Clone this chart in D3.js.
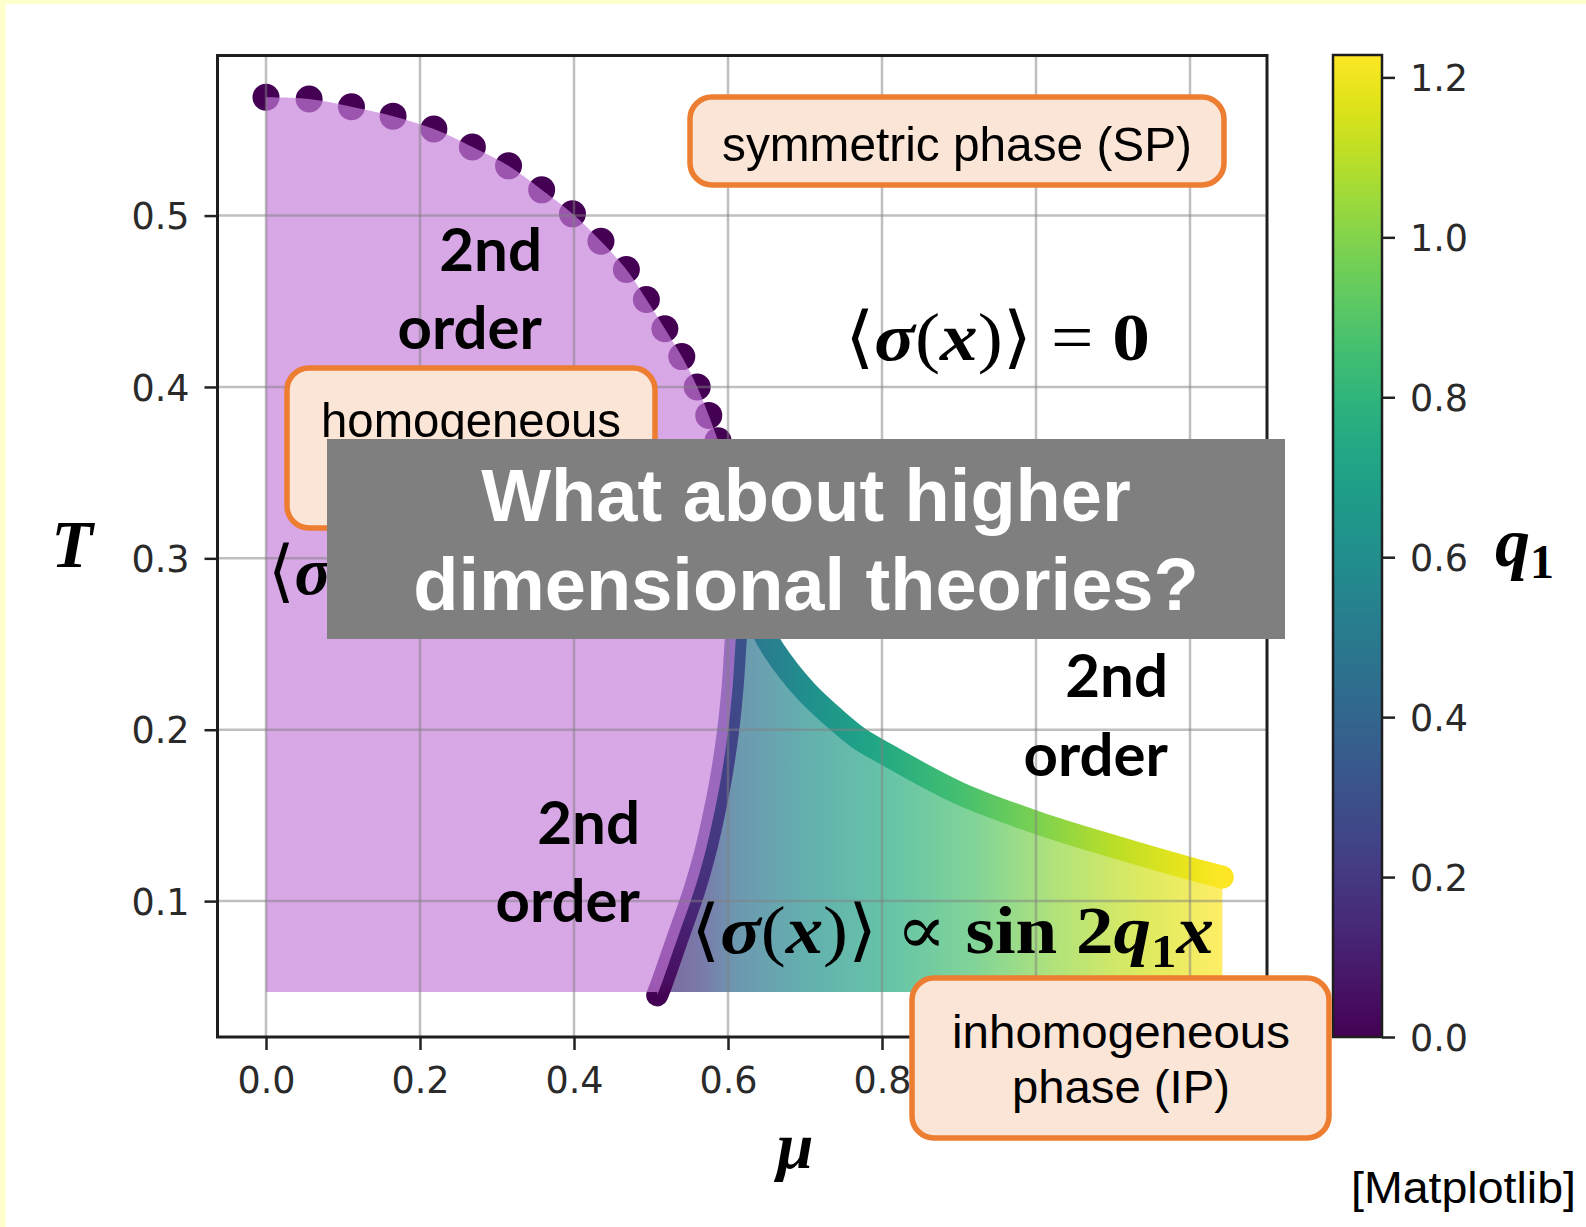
<!DOCTYPE html>
<html>
<head>
<meta charset="utf-8">
<script src="https://cdn.jsdelivr.net/npm/d3@7"></script>
<style>
  html, body { margin: 0; padding: 0; background: #ffffff; }
  svg { display: block; }
</style>
</head>
<body>
<svg id="chart" width="1586" height="1227"></svg>
<script>
// ---- Phase-boundary data (chemical potential μ, temperature T) ----
// Second-order line of the homogeneous phase (drawn as dots)
const hpMu = [0, 0.056, 0.111, 0.165, 0.218, 0.268, 0.315, 0.358, 0.398, 0.435, 0.468,
              0.494, 0.518, 0.540, 0.560, 0.575, 0.587, 0.597, 0.604, 0.609, 0.613, 0.616];
const hpT  = [0.569, 0.568, 0.5635, 0.558, 0.5505, 0.540, 0.529, 0.515, 0.501, 0.485, 0.4685,
              0.451, 0.434, 0.4177, 0.400, 0.3834, 0.3686, 0.352, 0.335, 0.318, 0.300, 0.288];

// Boundary between homogeneous and inhomogeneous phase, with q1 along it
const lineMu = [0.508, 0.514, 0.535, 0.556, 0.569, 0.580, 0.591, 0.600, 0.606, 0.610, 0.614, 0.616];
const lineT  = [0.045, 0.052, 0.079, 0.106, 0.126, 0.147, 0.172, 0.199, 0.225, 0.252, 0.275, 0.288];
const lineQ  = [0.00, 0.04, 0.10, 0.16, 0.19, 0.21, 0.23, 0.25, 0.28, 0.31, 0.36, 0.40];

// Upper boundary of the inhomogeneous phase, with q1 along it
const upMu = [0.616, 0.625, 0.64, 0.66, 0.70, 0.74, 0.77, 0.80, 0.90, 1.00, 1.10, 1.20, 1.242];
const upT  = [0.288, 0.275, 0.262, 0.246, 0.223, 0.206, 0.195, 0.187, 0.163, 0.146, 0.132, 0.119, 0.114];
const upQ  = [0.42, 0.45, 0.50, 0.53, 0.60, 0.66, 0.70, 0.74, 0.86, 0.98, 1.10, 1.19, 1.228];

// Wave number q1 inside the inhomogeneous phase, across μ
const fillMu = [0.508, 0.57, 0.61, 0.70, 0.81, 0.92, 1.03, 1.14, 1.242];
const fillQ  = [0.12, 0.25, 0.43, 0.60, 0.75, 0.88, 1.03, 1.14, 1.228];

const tBase = 0.047;   // lowest temperature computed
const qMax = 1.228;    // top of the colour bar

// Tick values (grid uses all μ ticks; labelled ticks stop before the IP note)
const muTicks = [0.0, 0.2, 0.4, 0.6, 0.8, 1.0, 1.2];
const muLabelTicks = [0.0, 0.2, 0.4, 0.6, 0.8];
const tTicks  = [0.1, 0.2, 0.3, 0.4, 0.5];
const qTicks  = [0.0, 0.2, 0.4, 0.6, 0.8, 1.0, 1.2];

// ---- Layout ----
const svg = d3.select("#chart");
const plotL = 217.5, plotR = 1267, plotT = 55.5, plotB = 1037;
const x = d3.scaleLinear().domain([-0.063, 1.3]).range([plotL, plotR]);
const y = d3.scaleLinear().domain([0.0207, 0.5934]).range([plotB, plotT]);
const cbar = { x0: 1333, x1: 1382, y0: 55, y1: 1037 };
const qY = d3.scaleLinear().domain([0, qMax]).range([cbar.y1, cbar.y0]);
const viridis = d3.scaleSequential(d3.interpolateViridis).domain([0, qMax]);

const sansFont = "'Liberation Sans', Arial, sans-serif";
const mathFont = "'Liberation Serif', 'DejaVu Serif', serif";
const tickFont = "'DejaVu Sans', sans-serif";

// frame band along the top and left edge
svg.append("rect").attr("x", 0).attr("y", 0).attr("width", 1586).attr("height", 4).attr("fill", "#ffffcc");
svg.append("rect").attr("x", 0).attr("y", 0).attr("width", 5.5).attr("height", 1227).attr("fill", "#ffffcc");

const defs = svg.append("defs");
const zip = (a, b) => a.map((v, i) => [v, b[i]]);

// horizontal gradient for the inhomogeneous phase
const x0f = x(fillMu[0]), x1f = x(fillMu[fillMu.length - 1]);
const gFill = defs.append("linearGradient").attr("id", "ipFill")
  .attr("gradientUnits", "userSpaceOnUse")
  .attr("x1", x0f).attr("x2", x1f).attr("y1", 0).attr("y2", 0);
fillMu.forEach((m, i) => gFill.append("stop")
  .attr("offset", (x(m) - x0f) / (x1f - x0f)).attr("stop-color", viridis(fillQ[i])));

// gradient along the upper boundary
const x0u = x(upMu[0]), x1u = x(upMu[upMu.length - 1]);
const gUp = defs.append("linearGradient").attr("id", "upStroke")
  .attr("gradientUnits", "userSpaceOnUse")
  .attr("x1", x0u).attr("x2", x1u).attr("y1", 0).attr("y2", 0);
upMu.forEach((m, i) => gUp.append("stop")
  .attr("offset", (x(m) - x0u) / (x1u - x0u)).attr("stop-color", viridis(upQ[i])));

// gradient along the HP/IP boundary (vertical)
const y0l = y(lineT[0]), y1l = y(lineT[lineT.length - 1]);
const gLine = defs.append("linearGradient").attr("id", "lineStroke")
  .attr("gradientUnits", "userSpaceOnUse")
  .attr("x1", 0).attr("x2", 0).attr("y1", y0l).attr("y2", y1l);
lineT.forEach((t, i) => gLine.append("stop")
  .attr("offset", (y(t) - y0l) / (y1l - y0l)).attr("stop-color", viridis(lineQ[i])));

// colour bar gradient
const gBar = defs.append("linearGradient").attr("id", "cbar")
  .attr("gradientUnits", "userSpaceOnUse")
  .attr("x1", 0).attr("x2", 0).attr("y1", cbar.y1).attr("y2", cbar.y0);
d3.range(0, 1.0001, 0.05).forEach(f => gBar.append("stop")
  .attr("offset", f).attr("stop-color", viridis(f * qMax)));

const smooth = d3.line().x(d => x(d[0])).y(d => y(d[1])).curve(d3.curveCatmullRom.alpha(0.5));
const tail = s => "L" + s.slice(1);

const hpPts = zip(hpMu, hpT);
const linePts = zip(lineMu, lineT);
const upPts = zip(upMu, upT);

// ---- inhomogeneous phase region ----
const ipPath = smooth(linePts) + tail(smooth(upPts)) +
  `L${x(upMu[upMu.length - 1])},${y(tBase)}L${x(lineMu[0])},${y(tBase)}Z`;
svg.append("path").attr("d", ipPath).attr("fill", "url(#ipFill)").attr("fill-opacity", 0.7);

// HP/IP boundary line
svg.append("path").attr("d", smooth(linePts))
  .attr("fill", "none").attr("stroke", "url(#lineStroke)")
  .attr("stroke-width", 22).attr("stroke-linecap", "round");

// dotted second-order line of the homogeneous phase
svg.append("g").selectAll("circle").data(hpPts).join("circle")
  .attr("cx", d => x(d[0])).attr("cy", d => y(d[1])).attr("r", 13.5)
  .attr("fill", viridis(0));

// ---- homogeneous phase region ----
const hpPath = `M${x(0)},${y(tBase)}` + tail(smooth(hpPts)) +
  tail(smooth(linePts.slice().reverse())) + `L${x(lineMu[0])},${y(tBase)}Z`;
svg.append("path").attr("d", hpPath).attr("fill", "rgb(198,126,218)").attr("fill-opacity", 0.68);

// upper boundary of the inhomogeneous phase, coloured by q1
svg.append("path").attr("d", smooth(upPts))
  .attr("fill", "none").attr("stroke", "url(#upStroke)")
  .attr("stroke-width", 23).attr("stroke-linecap", "round");

// ---- grid ----
const grid = svg.append("g").attr("stroke", "#808080").attr("stroke-opacity", 0.5).attr("stroke-width", 2.5);
grid.selectAll("line.gx").data(muTicks).join("line").attr("class", "gx")
  .attr("x1", d => x(d)).attr("x2", d => x(d)).attr("y1", plotT).attr("y2", plotB);
grid.selectAll("line.gy").data(tTicks).join("line").attr("class", "gy")
  .attr("y1", d => y(d)).attr("y2", d => y(d)).attr("x1", plotL).attr("x2", plotR);

// ---- axes ----
const fmt = d3.format(".1f");
const gx = svg.append("g").attr("transform", `translate(0,${plotB})`)
  .call(d3.axisBottom(x).tickValues(muLabelTicks).tickFormat(fmt).tickSize(13));
const gy = svg.append("g").attr("transform", `translate(${plotL},0)`)
  .call(d3.axisLeft(y).tickValues(tTicks).tickFormat(fmt).tickSize(13).tickPadding(15));
[gx, gy].forEach(g => {
  g.select(".domain").remove();
  g.attr("font-family", tickFont).attr("font-size", 36.5);
  g.selectAll(".tick line").attr("stroke", "#222").attr("stroke-width", 2.5);
  g.selectAll(".tick text").attr("fill", "#2a2a2a");
});
gx.selectAll(".tick text").attr("y", 56).attr("dy", 0);
gy.selectAll(".tick text").attr("dy", "0.36em");

svg.append("rect").attr("x", plotL).attr("y", plotT).attr("width", plotR - plotL).attr("height", plotB - plotT)
  .attr("fill", "none").attr("stroke", "#1e1e1e").attr("stroke-width", 3);

// ---- colour bar ----
svg.append("rect").attr("x", cbar.x0).attr("y", cbar.y0)
  .attr("width", cbar.x1 - cbar.x0).attr("height", cbar.y1 - cbar.y0)
  .attr("fill", "url(#cbar)").attr("stroke", "#1e1e1e").attr("stroke-width", 2.5);
const gc = svg.append("g").attr("transform", `translate(${cbar.x1},0)`)
  .call(d3.axisRight(qY).tickValues(qTicks).tickFormat(fmt).tickSize(13).tickPadding(15));
gc.select(".domain").remove();
gc.attr("font-family", tickFont).attr("font-size", 36.5);
gc.selectAll(".tick line").attr("stroke", "#222").attr("stroke-width", 2.5);
gc.selectAll(".tick text").attr("fill", "#2a2a2a").attr("dy", "0.36em");

// ---- region labels ----
function bold2nd(xr, yb1, yb2) {
  const t = svg.append("text").attr("font-family", "Lato, 'Open Sans', sans-serif")
    .attr("font-weight", 700).attr("font-size", 60).attr("text-anchor", "end").attr("fill", "#000");
  t.append("tspan").attr("x", xr).attr("y", yb1).text("2nd");
  t.append("tspan").attr("x", xr).attr("y", yb2).text("order");
}
bold2nd(542, 271, 349);
bold2nd(1168, 697, 776);
bold2nd(640, 844, 922);

// mixed-style formula text
function formula(x0, yb, size, parts, len) {
  const t = svg.append("text").attr("x", x0).attr("y", yb)
    .attr("font-family", mathFont).attr("font-size", size).attr("fill", "#000");
  if (len) t.attr("textLength", len).attr("lengthAdjust", "spacingAndGlyphs");
  parts.forEach(p => {
    const s = t.append("tspan").text(p.t)
      .attr("font-weight", p.b ? 700 : 400)
      .attr("font-style", p.i ? "italic" : "normal");
    if (p.sub) s.attr("font-size", size * 0.68).attr("dy", size * 0.2);
    if (p.up) s.attr("dy", -size * 0.2);
  });
  return t;
}
const sigma = [
  { t: "⟨" }, { t: "σ", b: 1, i: 1 }, { t: "(" }, { t: "x", b: 1, i: 1 }, { t: ")" }, { t: "⟩" }
];
formula(845, 360, 68, [...sigma, { t: " = " }, { t: "0", b: 1 }], 305);
formula(268, 594, 68, sigma.slice(0, 2));
formula(691, 953, 68, [...sigma, { t: " ∝ " }, { t: "sin", b: 1 }, { t: " 2", b: 1 },
  { t: "q", b: 1, i: 1 }, { t: "1", b: 1, sub: 1 }, { t: "x", b: 1, i: 1, up: 1 }], 523);

// ---- annotation boxes ----
function box(x0, y0, w, h) {
  svg.append("rect").attr("x", x0).attr("y", y0).attr("width", w).attr("height", h)
    .attr("rx", 22).attr("ry", 22)
    .attr("fill", "#fbe5d6").attr("stroke", "#ed7d31").attr("stroke-width", 5.5);
}
function boxText(cx, yb, str, len, size) {
  svg.append("text").attr("x", cx).attr("y", yb).attr("text-anchor", "middle")
    .attr("font-family", sansFont).attr("font-size", size || 49).attr("fill", "#000")
    .attr("textLength", len).attr("lengthAdjust", "spacingAndGlyphs").text(str);
}
box(690, 97, 534, 88);
boxText(957, 161, "symmetric phase (SP)", 470);
box(287, 368, 368, 160);
boxText(471, 437, "homogeneous", 300);

// ---- overlay question ----
svg.append("rect").attr("x", 327).attr("y", 439).attr("width", 958).attr("height", 200).attr("fill", "#7f7f7f");
const q = svg.append("text").attr("text-anchor", "middle").attr("font-family", sansFont)
  .attr("font-weight", 700).attr("font-size", 74).attr("fill", "#ffffff");
q.append("tspan").attr("x", 806).attr("y", 521).text("What about higher");
q.append("tspan").attr("x", 806).attr("y", 610).text("dimensional theories?");

box(912, 978, 417, 160);
boxText(1121, 1048, "inhomogeneous", 338, 46);
boxText(1121, 1103, "phase (IP)", 218, 46);

// ---- axis titles ----
svg.append("text").attr("x", 72).attr("y", 567).attr("text-anchor", "middle")
  .attr("font-family", mathFont).attr("font-weight", 700).attr("font-style", "italic")
  .attr("font-size", 68).text("T");
svg.append("text").attr("x", 795).attr("y", 1168).attr("text-anchor", "middle")
  .attr("font-family", mathFont).attr("font-weight", 700).attr("font-style", "italic")
  .attr("font-size", 66).text("μ");
const ql = svg.append("text").attr("x", 1495).attr("y", 566)
  .attr("font-family", mathFont).attr("font-weight", 700).attr("font-size", 70);
ql.append("tspan").attr("font-style", "italic").text("q");
ql.append("tspan").attr("font-size", 48).attr("dy", 12).text("1");

svg.append("text").attr("x", 1351).attr("y", 1203).attr("font-family", sansFont)
  .attr("font-size", 45).attr("textLength", 225).attr("lengthAdjust", "spacingAndGlyphs")
  .text("[Matplotlib]");
</script>
</body>
</html>
